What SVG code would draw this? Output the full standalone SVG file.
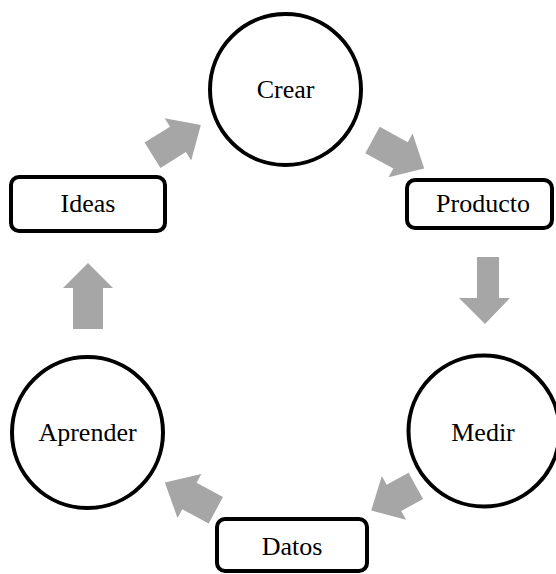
<svg xmlns="http://www.w3.org/2000/svg" width="556" height="574" viewBox="0 0 556 574">
  <style>
    .node { fill: #ffffff; stroke: #000000; stroke-width: 4; }
    .label { font-family: "Liberation Serif", "Times New Roman", serif; font-size: 26px; fill: #000000; text-anchor: middle; }
    .flow { fill: #a6a6a6; stroke: none; }
  </style>
  <rect width="556" height="574" fill="#ffffff"/>

  <!-- block arrows of the cycle -->
  <g id="connectors">
    <polygon class="flow" transform="translate(152.5,155.3) rotate(-32)" points="0,-15 30,-15 30,-25 57,0 30,25 30,15 0,15"/>
    <polygon class="flow" transform="translate(372.5,140) rotate(28.8)" points="0,-15 32,-15 32,-25 59,0 32,25 32,15 0,15"/>
    <polygon class="flow" points="477,257 499,257 499,298 510,298 485,324 459,298 477,298"/>
    <polygon class="flow" transform="translate(415.8,485.8) rotate(151)" points="0,-15 25,-15 25,-25 51,0 25,25 25,15 0,15"/>
    <polygon class="flow" transform="translate(215.8,510.3) rotate(208.5)" points="0,-15 30,-15 30,-25 58,0 30,25 30,15 0,15"/>
    <polygon class="flow" points="73,329 103,329 103,288 113,288 88,263 63,288 73,288"/>
  </g>

  <g id="crear">
    <circle class="node" cx="285.5" cy="89.5" r="75.5"/>
    <text class="label" x="285.5" y="98">Crear</text>
  </g>
  <g id="producto">
    <rect class="node" x="407" y="180" width="145" height="48" rx="8"/>
    <text class="label" x="483" y="212">Producto</text>
  </g>
  <g id="medir">
    <circle class="node" cx="484" cy="431" r="75.5"/>
    <text class="label" x="483" y="441">Medir</text>
  </g>
  <g id="datos">
    <rect class="node" x="217" y="519" width="150" height="52" rx="8"/>
    <text class="label" x="292" y="555">Datos</text>
  </g>
  <g id="aprender">
    <circle class="node" cx="87.5" cy="432.5" r="75.5"/>
    <text class="label" x="87.5" y="441">Aprender</text>
  </g>
  <g id="ideas">
    <rect class="node" x="11" y="177" width="154" height="54" rx="8"/>
    <text class="label" x="88" y="212">Ideas</text>
  </g>
</svg>
